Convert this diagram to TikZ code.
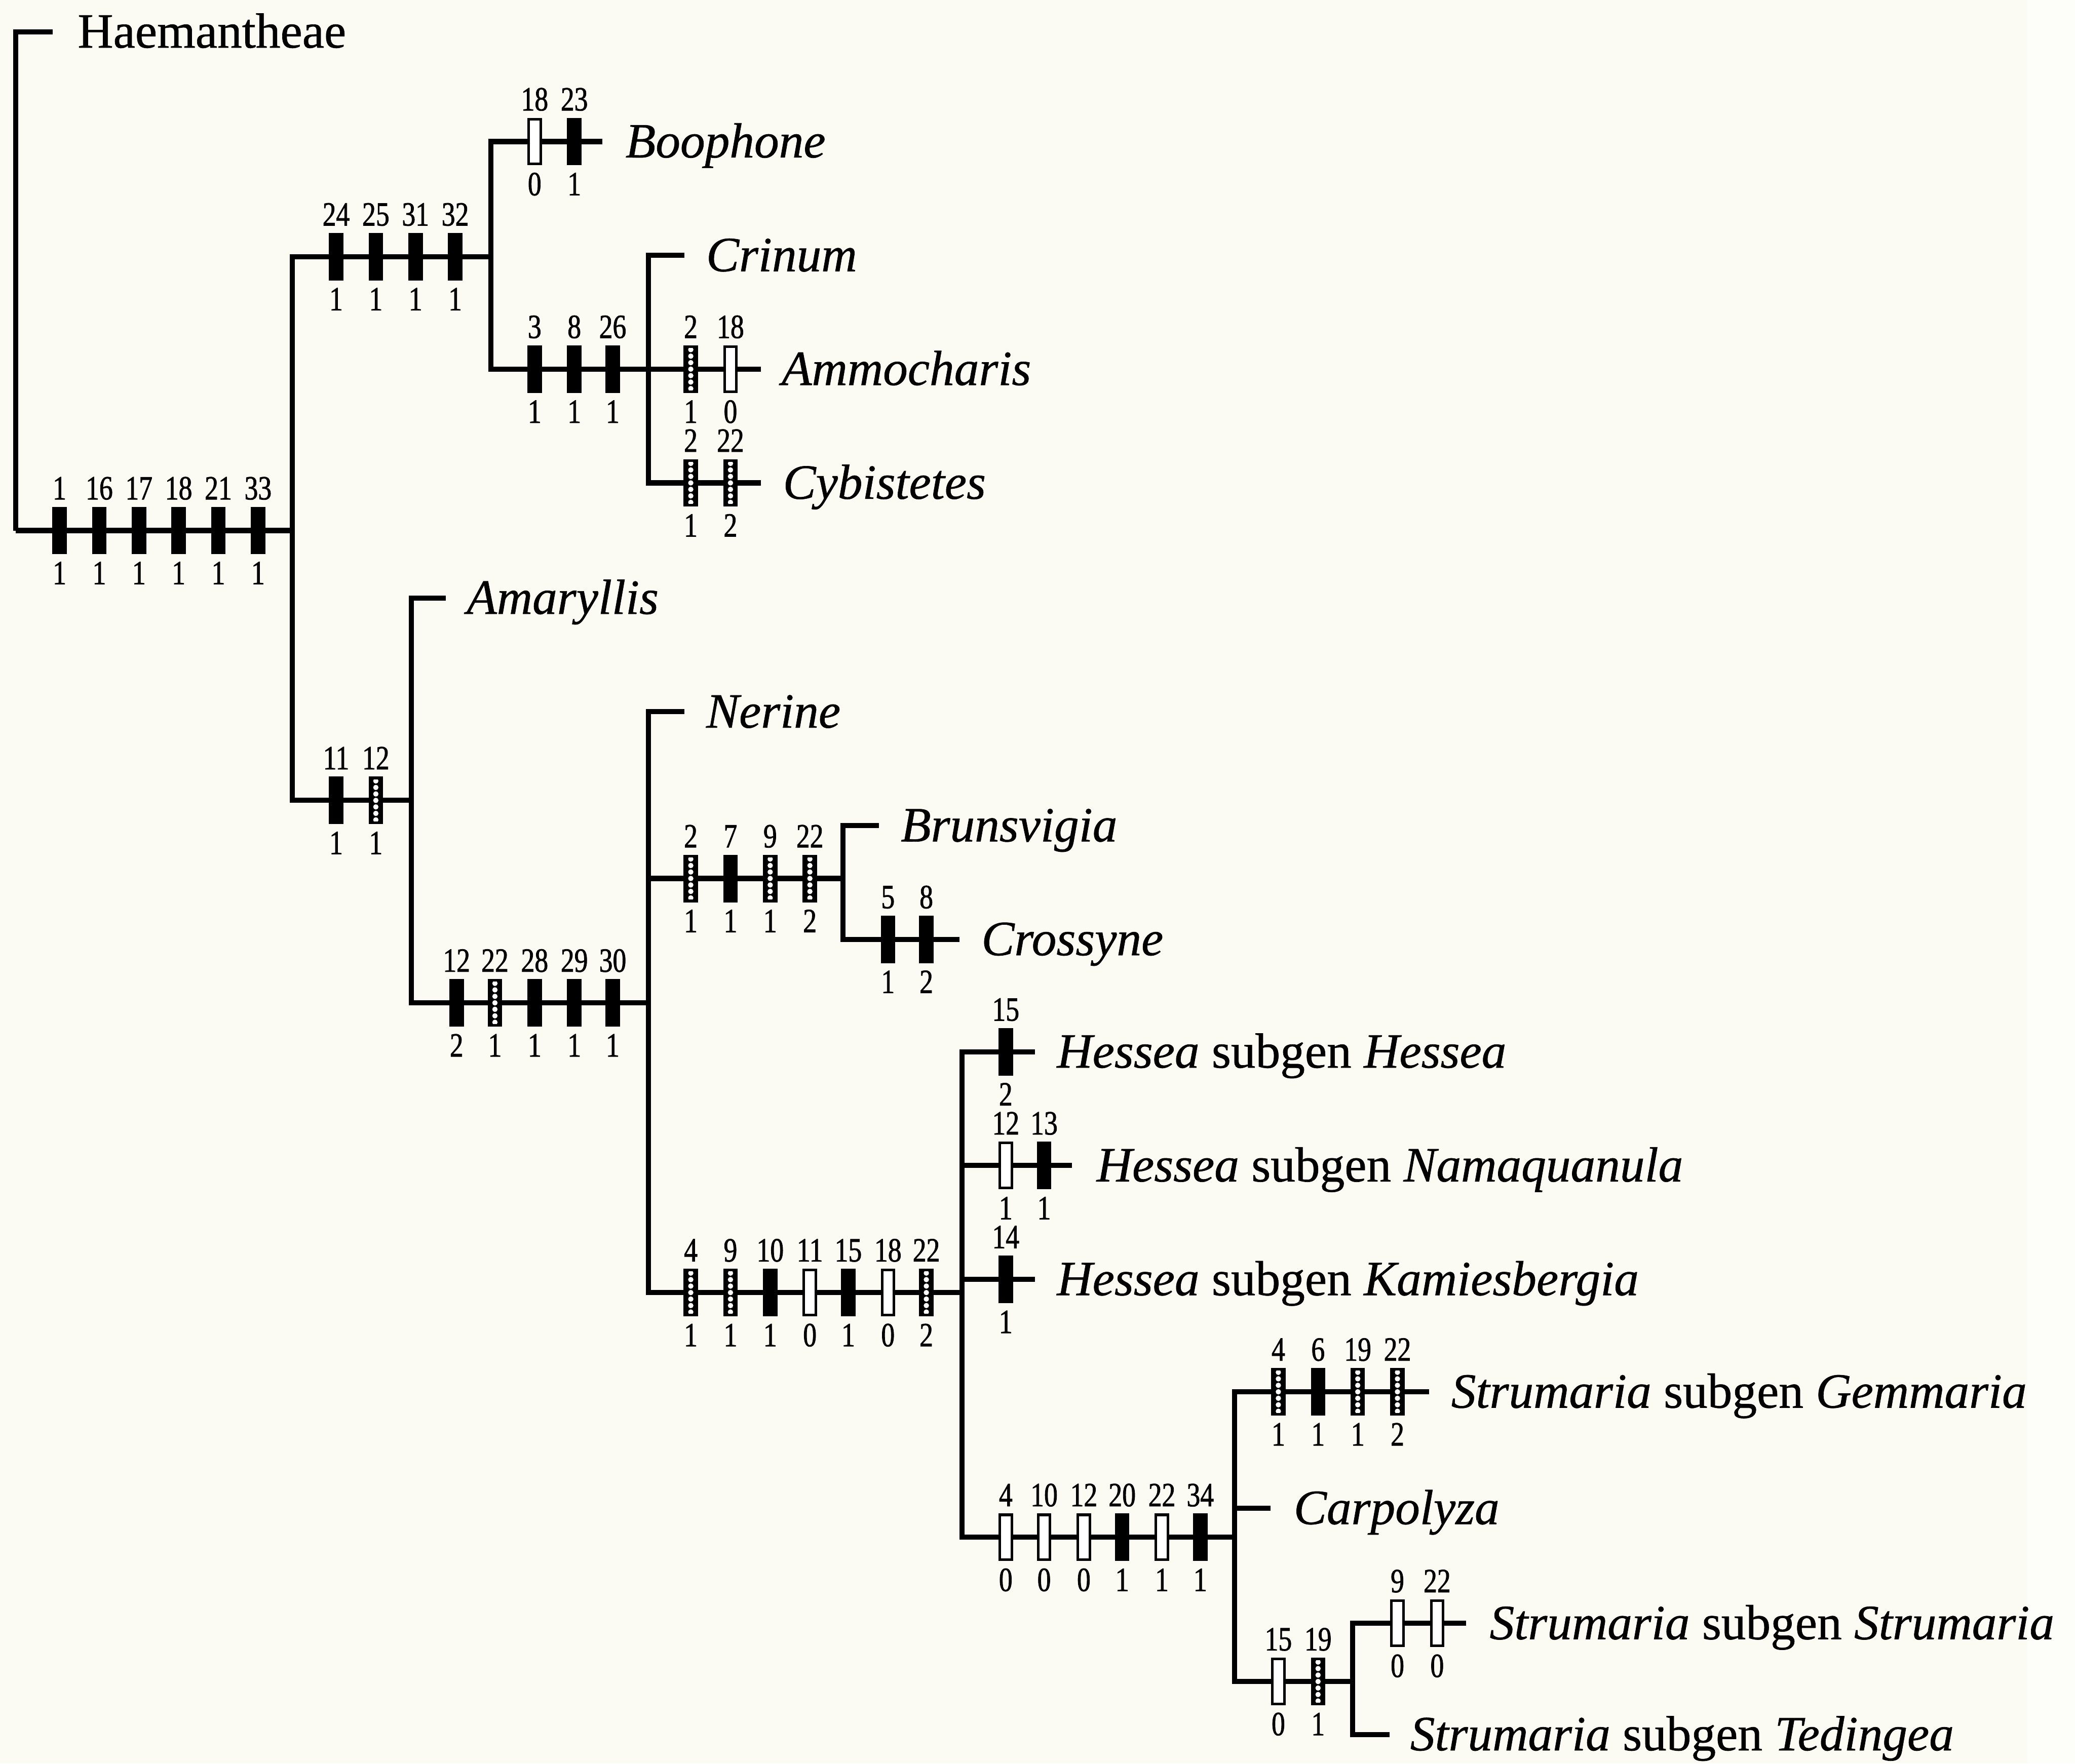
\documentclass[tikz,border=0pt]{standalone}
\usepackage{fontspec}
\setmainfont{Liberation Serif}[FakeBold=0.7]
\newfontfamily\numfont[FakeStretch=0.8,FakeBold=1.2]{Liberation Serif}
\definecolor{paper}{RGB}{252,251,243}
\definecolor{paperw}{RGB}{253,254,249}
\tikzset{
  br/.style={line width=1.1pt, line join=miter},
  barbase/.style={rectangle, inner sep=0pt, minimum width=0.09cm, minimum height=0.34cm, draw=black, line width=0.55pt},
  blk/.style={barbase, fill=black},
  opn/.style={barbase, fill=white},
  hat/.style={barbase, fill=black, path picture={
      \foreach \k in {-3,-2,...,3}{
        \fill[white] ([yshift=\k*0.049cm]path picture bounding box.center) circle[radius=0.02cm];}}},
  num/.style={inner sep=0pt, anchor=base, font=\numfont\fontsize{7.3pt}{8pt}\selectfont},
  lab/.style={inner sep=0pt, anchor=base west, font=\fontsize{10.6pt}{12pt}\selectfont},
}
\newcommand{\chmk}[5]{%
  \node[#1] (m-#2-#3) at (#2,#3) {};
  \node[num] (t-#2-#3) at (#2,{#3-23.5}) {#4};
  \node[num] (b-#2-#3) at (#2,{#3+40.6}) {#5};
}
\begin{document}
\begin{tikzpicture}[x=0.01cm,y=-0.01cm]
\fill[paper] (0,0) rectangle (1568,1333);
\fill[paperw] (1532,0) rectangle (1568,1333);
\useasboundingbox (0,0) rectangle (1568,1333);

% internal nodes
\coordinate (root) at (12,401);
\coordinate (c1) at (221,401);
\coordinate (c2) at (371,194);
\coordinate (c3) at (490,279);
\coordinate (c4) at (311,605);
\coordinate (c5) at (490,758);
\coordinate (c6) at (637,664);
\coordinate (c7) at (727,977);
\coordinate (c8) at (933,1162);
\coordinate (c9) at (1022,1271);

% tips
\coordinate (tHae) at (40,24);
\coordinate (tBoo) at (455,107);
\coordinate (tCri) at (517,193);
\coordinate (tAmm) at (575,279);
\coordinate (tCyb) at (575,365);
\coordinate (tAma) at (337,452);
\coordinate (tNer) at (517,538);
\coordinate (tBru) at (664,624);
\coordinate (tCro) at (725,710);
\coordinate (tHH) at (782,795);
\coordinate (tHN) at (810,881);
\coordinate (tHK) at (782,967);
\coordinate (tSG) at (1080,1052);
\coordinate (tCar) at (960,1140);
\coordinate (tSS) at (1108,1227);
\coordinate (tST) at (1050,1311);

% branches
\draw[br] (root) |- (tHae);
\draw[br] (root) -- (c1);
\draw[br] (c1) |- (c2);
\draw[br] (c1) |- (c4);
\draw[br] (c2) |- (tBoo);
\draw[br] (c2) |- (c3);
\draw[br] (c3) |- (tCri);
\draw[br] (c3) -- (tAmm);
\draw[br] (c3) |- (tCyb);
\draw[br] (c4) |- (tAma);
\draw[br] (c4) |- (c5);
\draw[br] (c5) |- (tNer);
\draw[br] (c5) |- (c6);
\draw[br] (c5) |- (c7);
\draw[br] (c6) |- (tBru);
\draw[br] (c6) |- (tCro);
\draw[br] (c7) |- (tHH);
\draw[br] (c7) |- (tHN);
\draw[br] (c7) |- (tHK);
\draw[br] (c7) |- (c8);
\draw[br] (c8) |- (tSG);
\draw[br] (c8) |- (tCar);
\draw[br] (c8) |- (c9);
\draw[br] (c9) |- (tSS);
\draw[br] (c9) |- (tST);

% character marks
\chmk{blk}{45}{401}{1}{1}
\chmk{blk}{75}{401}{16}{1}
\chmk{blk}{105}{401}{17}{1}
\chmk{blk}{135}{401}{18}{1}
\chmk{blk}{165}{401}{21}{1}
\chmk{blk}{195}{401}{33}{1}

\chmk{blk}{254}{194}{24}{1}
\chmk{blk}{284}{194}{25}{1}
\chmk{blk}{314}{194}{31}{1}
\chmk{blk}{344}{194}{32}{1}

\chmk{opn}{404}{107}{18}{0}
\chmk{blk}{434}{107}{23}{1}

\chmk{blk}{404}{279}{3}{1}
\chmk{blk}{434}{279}{8}{1}
\chmk{blk}{463}{279}{26}{1}

\chmk{hat}{522}{279}{2}{1}
\chmk{opn}{552}{279}{18}{0}

\chmk{hat}{522}{365}{2}{1}
\chmk{hat}{552}{365}{22}{2}

\chmk{blk}{254}{605}{11}{1}
\chmk{hat}{284}{605}{12}{1}

\chmk{blk}{345}{758}{12}{2}
\chmk{hat}{374}{758}{22}{1}
\chmk{blk}{404}{758}{28}{1}
\chmk{blk}{434}{758}{29}{1}
\chmk{blk}{463}{758}{30}{1}

\chmk{hat}{522}{664}{2}{1}
\chmk{blk}{552}{664}{7}{1}
\chmk{hat}{582}{664}{9}{1}
\chmk{hat}{612}{664}{22}{2}

\chmk{blk}{671}{710}{5}{1}
\chmk{blk}{700}{710}{8}{2}

\chmk{hat}{522}{977}{4}{1}
\chmk{hat}{552}{977}{9}{1}
\chmk{blk}{582}{977}{10}{1}
\chmk{opn}{612}{977}{11}{0}
\chmk{blk}{641}{977}{15}{1}
\chmk{opn}{671}{977}{18}{0}
\chmk{hat}{700}{977}{22}{2}

\chmk{blk}{760}{795}{15}{2}

\chmk{opn}{760}{881}{12}{1}
\chmk{blk}{789}{881}{13}{1}

\chmk{blk}{760}{967}{14}{1}

\chmk{opn}{760}{1162}{4}{0}
\chmk{opn}{789}{1162}{10}{0}
\chmk{opn}{819}{1162}{12}{0}
\chmk{blk}{848}{1162}{20}{1}
\chmk{opn}{878}{1162}{22}{1}
\chmk{blk}{907}{1162}{34}{1}

\chmk{hat}{966}{1052}{4}{1}
\chmk{blk}{996}{1052}{6}{1}
\chmk{hat}{1026}{1052}{19}{1}
\chmk{hat}{1056}{1052}{22}{2}

\chmk{opn}{966}{1271}{15}{0}
\chmk{hat}{996}{1271}{19}{1}

\chmk{opn}{1056}{1227}{9}{0}
\chmk{opn}{1086}{1227}{22}{0}

% taxon labels
\node[lab] (Hae) at (58,36) {Haemantheae};
\node[lab] (Boo) at (472,119) {\textit{Boophone}};
\node[lab] (Cri) at (533,205) {\textit{Crinum}};
\node[lab] (Amm) at (590,291) {\textit{Ammocharis}};
\node[lab] (Cyb) at (591,377) {\textit{Cybistetes}};
\node[lab] (Ama) at (352,464) {\textit{Amaryllis}};
\node[lab] (Ner) at (533,550) {\textit{Nerine}};
\node[lab] (Bru) at (680,636) {\textit{Brunsvigia}};
\node[lab] (Cro) at (741,722) {\textit{Crossyne}};
\node[lab] (HH) at (798,807) {\textit{Hessea} subgen \textit{Hessea}};
\node[lab] (HN) at (828,893) {\textit{Hessea} subgen \textit{Namaquanula}};
\node[lab] (HK) at (798,979) {\textit{Hessea} subgen \textit{Kamiesbergia}};
\node[lab] (SG) at (1096,1064) {\textit{Strumaria} subgen \textit{Gemmaria}};
\node[lab] (Car) at (977,1152) {\textit{Carpolyza}};
\node[lab] (SS) at (1125,1239) {\textit{Strumaria} subgen \textit{Strumaria}};
\node[lab] (ST) at (1065,1323) {\textit{Strumaria} subgen \textit{Tedingea}};
\end{tikzpicture}
\end{document}
